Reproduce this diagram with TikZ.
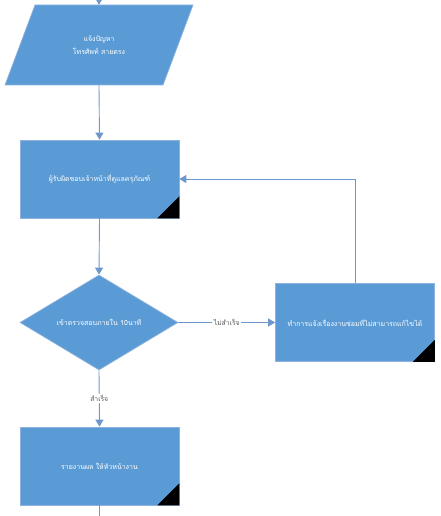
\documentclass[tikz,border=0pt]{standalone}
\usepackage{fontspec}
\newfontfamily\thai[Script=Thai]{Loma}
\usetikzlibrary{arrows.meta,shapes.geometric}
\definecolor{boxfill}{HTML}{5B9BD5}
\definecolor{boxline}{HTML}{8FB3DE}
\definecolor{conn}{HTML}{6E98CB}
\definecolor{lbl}{HTML}{595959}
\tikzset{
  boxtext/.style={text=white, font=\thai\fontsize{7}{13}\selectfont, align=center, inner sep=0pt},
  proc/.style={boxtext, rectangle, fill=boxfill, draw=boxline, line width=0.7pt,
    minimum width=159pt, minimum height=78pt},
  decide/.style={boxtext, diamond, fill=boxfill, draw=boxline, line width=0.7pt,
    minimum width=158pt, minimum height=95pt, aspect=1.66},
  conn/.style={draw=conn, line width=0.9pt},
  arr/.style={conn, -{Triangle[width=8pt,length=7pt]}},
  edgelbl/.style={fill=white, text=lbl, font=\thai\fontsize{6.8}{8}\selectfont, inner sep=1.5pt},
  corner/.style={fill=black}
}
\begin{document}
\begin{tikzpicture}[x=1pt,y=-1pt]
\useasboundingbox (0,0) rectangle (440,516);
% parallelogram (drawn from an invisible frame node)
\node[rectangle, minimum width=188pt, minimum height=80pt, inner sep=0pt] (io) at (99,45) {};
\fill[boxfill, draw=boxline, line width=0.7pt] (35,5) -- (193,5) -- (163,85) -- (5,85) -- cycle;
\node[boxtext] (iot) at (io.center) {แจ้งปัญหา\\โทรศัพท์ สายตรง};
\coordinate (top) at (99,0);
\draw[arr] (top) -- (io.north);

\node[proc] (resp) at (99.5,179) {ผู้รับผิดชอบเจ้าหน้าที่ดูแลครุภัณฑ์};
\fill[corner] (resp.south east) -- ++(0,-22) -- ++(-22,22) -- cycle;

\node[decide] (chk) at (99,322.5) {เข้าตรวจสอบภายใน 10นาที};

\node[proc] (fail) at (355,322.5) {ทำการแจ้งเรื่องงานซ่อมที่ไม่สามารถแก้ไขได้};
\fill[corner] (fail.south east) -- ++(0,-22) -- ++(-22,22) -- cycle;

\node[proc] (rep) at (99.5,466) {รายงานผล ให้หัวหน้างาน};
\fill[corner] (rep.south east) -- ++(0,-22) -- ++(-22,22) -- cycle;
\coordinate (bot) at (99.5,516);

\draw[arr] (io.south) -- (resp.north);
\draw[arr] (resp.south) -- (chk.north);
\draw[arr] (chk.east) -- node[edgelbl] {ไม่สำเร็จ} (fail.west);
\draw[arr] (fail.north) |- (resp.east);
\draw[arr] (chk.south) -- node[edgelbl, pos=0.5] {สำเร็จ} (rep.north);
\draw[conn] (rep.south) -- (bot);
\end{tikzpicture}
\end{document}
